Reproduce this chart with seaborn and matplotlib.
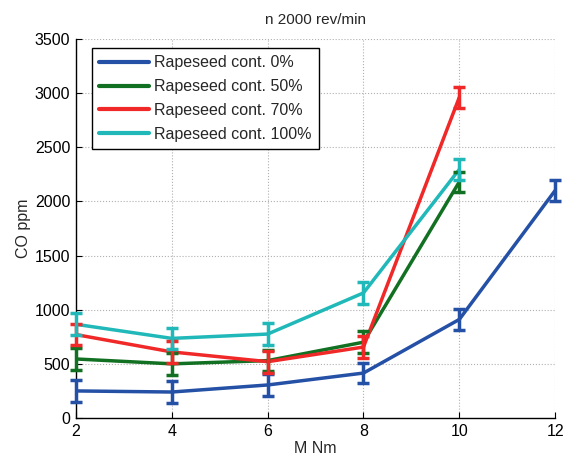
import matplotlib
matplotlib.use("Agg")
import matplotlib.pyplot as plt
import seaborn as sns
import pandas as pd

# Torque points (Nm) and measured CO (ppm) for each fuel blend
torque = [2, 4, 6, 8, 10, 12]
co_0 = [250, 240, 305, 415, 910, 2100]
co_50 = [545, 500, 530, 700, 2180]
co_70 = [770, 610, 520, 655, 2960]
co_100 = [865, 735, 775, 1155, 2295]
err_0 = [100, 100, 100, 95, 100, 100]
err_50 = [100, 100, 100, 100, 90]
err_70 = [100, 100, 100, 100, 100]
err_100 = [100, 100, 100, 100, 100]

labels = ["Rapeseed cont. 0%", "Rapeseed cont. 50%",
          "Rapeseed cont. 70%", "Rapeseed cont. 100%"]
colors = ["#2450a6", "#127022", "#f02828", "#20b8b8"]
series = [co_0, co_50, co_70, co_100]
errors = [err_0, err_50, err_70, err_100]

frames = []
for lab, vals, errs in zip(labels, series, errors):
    frames.append(pd.DataFrame({"M": torque[:len(vals)], "CO": vals,
                                "err": errs, "blend": lab}))
df = pd.concat(frames, ignore_index=True)

sns.set_theme(style="white")
plt.rcParams["font.family"] = ["Liberation Sans", "DejaVu Sans"]

fig = plt.figure(figsize=(5.63, 4.59), dpi=100)
ax = fig.add_axes([0.135, 0.0893, 0.851, 0.826])

sns.lineplot(data=df, x="M", y="CO", hue="blend", hue_order=labels,
             palette=colors, linewidth=2.5, ax=ax, legend=True,
             errorbar=None, zorder=3)

for lab, col in zip(labels, colors):
    sub = df[df["blend"] == lab]
    ax.errorbar(sub["M"], sub["CO"], yerr=sub["err"], fmt="none",
                ecolor=col, elinewidth=2.5, capsize=4, capthick=2.5,
                zorder=3, clip_on=False)

ax.set_xlim(2, 12)
ax.set_ylim(0, 3500)
ax.set_xticks([2, 4, 6, 8, 10, 12])
ax.set_yticks(range(0, 3501, 500))
ax.grid(True, linestyle=":", color="#b0b0b0", linewidth=0.8)
ax.set_axisbelow(True)

for side in ["top", "right"]:
    ax.spines[side].set_visible(False)
for side in ["left", "bottom"]:
    ax.spines[side].set_color("black")
    ax.spines[side].set_linewidth(1.0)

ax.tick_params(direction="in", length=4, width=0.8, labelsize=11.5,
               colors="black", left=True, bottom=True, pad=4)

ax.set_title("n 2000 rev/min", fontsize=11, pad=11)
ax.set_xlabel("M Nm", fontsize=11.5, labelpad=2)
ax.set_ylabel("CO ppm", fontsize=11.5, labelpad=3)

leg = ax.legend(loc="upper left", bbox_to_anchor=(0.0334, 0.976),
                borderaxespad=0, fontsize=11.5, handlelength=3.1,
                frameon=True, fancybox=False, edgecolor="black",
                framealpha=1, borderpad=0.45, labelspacing=0.56,
                handletextpad=0.35)
leg.get_frame().set_linewidth(1.0)
for line in leg.get_lines():
    line.set_linewidth(3)

fig.savefig("out.png", dpi=100)
